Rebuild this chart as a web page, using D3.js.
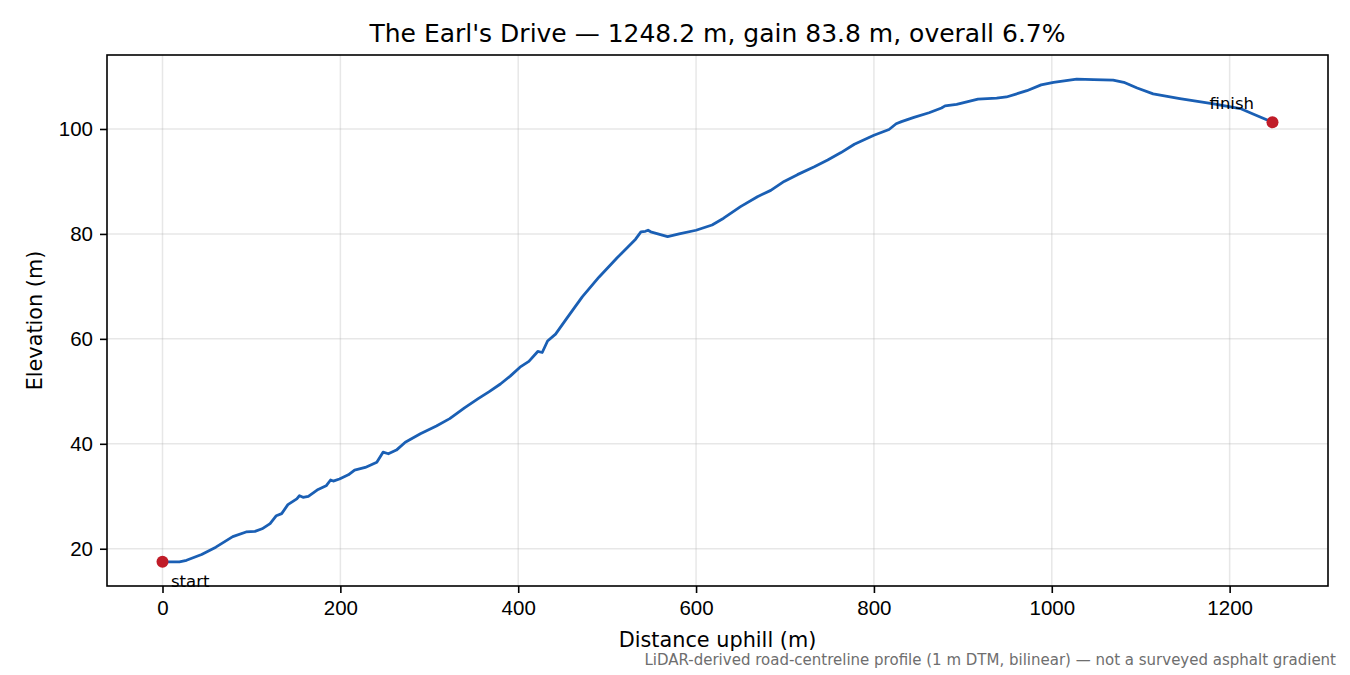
<!DOCTYPE html>
<html>
<head>
<meta charset="utf-8">
<script src="https://cdn.jsdelivr.net/npm/d3@7"></script>
<style>
  body { margin: 0; background: #fff; }
  svg { font-family: "DejaVu Sans", sans-serif; }
</style>
</head>
<body>
<script>
// profile
const distance = [0, 19, 27, 44, 60, 79, 94, 104, 112, 121, 128, 134, 141, 151, 154, 158, 164, 175, 184, 189, 192,
  199, 209, 216, 228, 241, 248, 254, 263, 273, 290, 308, 323, 340, 355, 367, 380, 391, 402, 412, 422, 427, 433, 442,
  455, 472, 491, 511, 532, 538, 543, 546, 549, 568, 581, 600, 618, 631, 650, 669, 684, 699, 714, 733, 748, 763, 778,
  800, 817, 825, 831, 845, 862, 876, 880, 893, 917, 938, 949, 972, 988, 1002, 1028, 1047, 1069, 1081, 1096, 1114,
  1144, 1182, 1212, 1227, 1248.2];
const elevation = [17.5, 17.5, 17.8, 18.9, 20.3, 22.3, 23.2, 23.3, 23.8, 24.8, 26.3, 26.7, 28.4, 29.5, 30.1, 29.8, 30.0,
  31.3, 32.0, 33.1, 32.9, 33.3, 34.1, 35.0, 35.5, 36.5, 38.4, 38.1, 38.8, 40.3, 41.9, 43.4, 44.8, 46.9, 48.6, 49.9,
  51.4, 52.9, 54.6, 55.7, 57.6, 57.4, 59.6, 60.9, 64.0, 68.0, 71.8, 75.4, 79.0, 80.4, 80.5, 80.7, 80.4, 79.5, 80.0,
  80.7, 81.7, 83.0, 85.2, 87.1, 88.3, 90.0, 91.3, 92.8, 94.1, 95.5, 97.1, 98.8, 99.9, 101.0, 101.4, 102.2, 103.1,
  104.0, 104.4, 104.7, 105.7, 105.9, 106.1, 107.3, 108.4, 108.9, 109.5, 109.4, 109.3, 108.9, 107.8, 106.7, 105.8,
  104.8, 103.9, 102.8, 101.3];
const xTicks = [0, 200, 400, 600, 800, 1000, 1200];
const yTicks = [20, 40, 60, 80, 100];
const titleText = "The Earl's Drive \u2014 1248.2 m, gain 83.8 m, overall 6.7%";
const noteText = "LiDAR-derived road-centreline profile (1 m DTM, bilinear) \u2014 not a surveyed asphalt gradient";

const W = 1350, H = 675;
const margin = { top: 55, right: 22, bottom: 89, left: 107 };
const width = W - margin.left - margin.right;
const height = H - margin.top - margin.bottom;

const pts = distance.map((d, i) => ({ d: d, e: elevation[i] }));

const svg = d3.select("body").append("svg")
    .attr("width", W)
    .attr("height", H);

const g = svg.append("g")
    .attr("transform", `translate(${margin.left}, ${margin.top})`);

// matplotlib style 5% padding
const xExt = d3.extent(distance), yExt = d3.extent(elevation);
const xPad = (xExt[1] - xExt[0]) * 0.05, yPad = (yExt[1] - yExt[0]) * 0.05;

const x = d3.scaleLinear()
    .domain([xExt[0] - xPad, xExt[1] + xPad])
    .range([0, width]);
const y = d3.scaleLinear()
    .domain([yExt[0] - yPad, yExt[1] + yPad])
    .range([height, 0]);

// grid
g.append("g").selectAll("line").data(xTicks).enter().append("line")
    .attr("x1", d => x(d)).attr("x2", d => x(d))
    .attr("y1", 0).attr("y2", height)
    .attr("stroke", "#b0b0b0").attr("stroke-opacity", 0.3).attr("stroke-width", 1.5);
g.append("g").selectAll("line").data(yTicks).enter().append("line")
    .attr("y1", d => y(d)).attr("y2", d => y(d))
    .attr("x1", 0).attr("x2", width)
    .attr("stroke", "#b0b0b0").attr("stroke-opacity", 0.3).attr("stroke-width", 1.5);

// axes
const xAxis = d3.axisBottom(x).tickValues(xTicks).tickFormat(d3.format("d")).tickSize(7).tickPadding(7).tickSizeOuter(0);
const yAxis = d3.axisLeft(y).tickValues(yTicks).tickFormat(d3.format("d")).tickSize(7).tickPadding(7).tickSizeOuter(0);

g.append("g")
    .attr("transform", `translate(0, ${height})`)
    .call(xAxis)
    .call(a => a.select(".domain").remove())
    .selectAll("text").attr("font-size", 20.5).attr("fill", "#000");
g.append("g")
    .call(yAxis)
    .call(a => a.select(".domain").remove())
    .selectAll("text").attr("font-size", 20.5).attr("fill", "#000");
g.selectAll(".tick line").attr("stroke", "#000").attr("stroke-width", 1.6);

// frame
g.append("rect")
    .attr("width", width).attr("height", height)
    .attr("fill", "none").attr("stroke", "#000").attr("stroke-width", 1.6);

// profile
const line = d3.line()
    .x(d => x(d.d))
    .y(d => y(d.e));

g.append("path")
    .datum(pts)
    .attr("d", line)
    .attr("fill", "none")
    .attr("stroke", "#1a5fb4")
    .attr("stroke-width", 2.8)
    .attr("stroke-linejoin", "round")
    .attr("stroke-linecap", "round");

// end markers
const ends = [pts[0], pts[pts.length - 1]];
g.selectAll(".end").data(ends).enter().append("circle")
    .attr("class", "end")
    .attr("cx", d => x(d.d)).attr("cy", d => y(d.e))
    .attr("r", 6)
    .attr("fill", "#c01c28");

g.append("text")
    .attr("x", x(ends[0].d) + 8.5).attr("y", y(ends[0].e) + 25)
    .attr("font-size", 16.5).text("start");
g.append("text")
    .attr("x", x(ends[1].d) - 63).attr("y", y(ends[1].e) - 13.5)
    .attr("font-size", 16.5).text("finish");

// labels
svg.append("text")
    .attr("x", margin.left + width / 2).attr("y", 42)
    .attr("text-anchor", "middle").attr("font-size", 25)
    .text(titleText);
svg.append("text")
    .attr("x", margin.left + width / 2).attr("y", 647)
    .attr("text-anchor", "middle").attr("font-size", 20.8)
    .text("Distance uphill (m)");
svg.append("text")
    .attr("transform", `translate(42, ${margin.top + height / 2}) rotate(-90)`)
    .attr("text-anchor", "middle").attr("font-size", 20.8)
    .text("Elevation (m)");
svg.append("text")
    .attr("x", 1336).attr("y", 665)
    .attr("text-anchor", "end").attr("font-size", 15).attr("fill", "#6e6e6e")
    .text(noteText);
</script>
</body>
</html>
